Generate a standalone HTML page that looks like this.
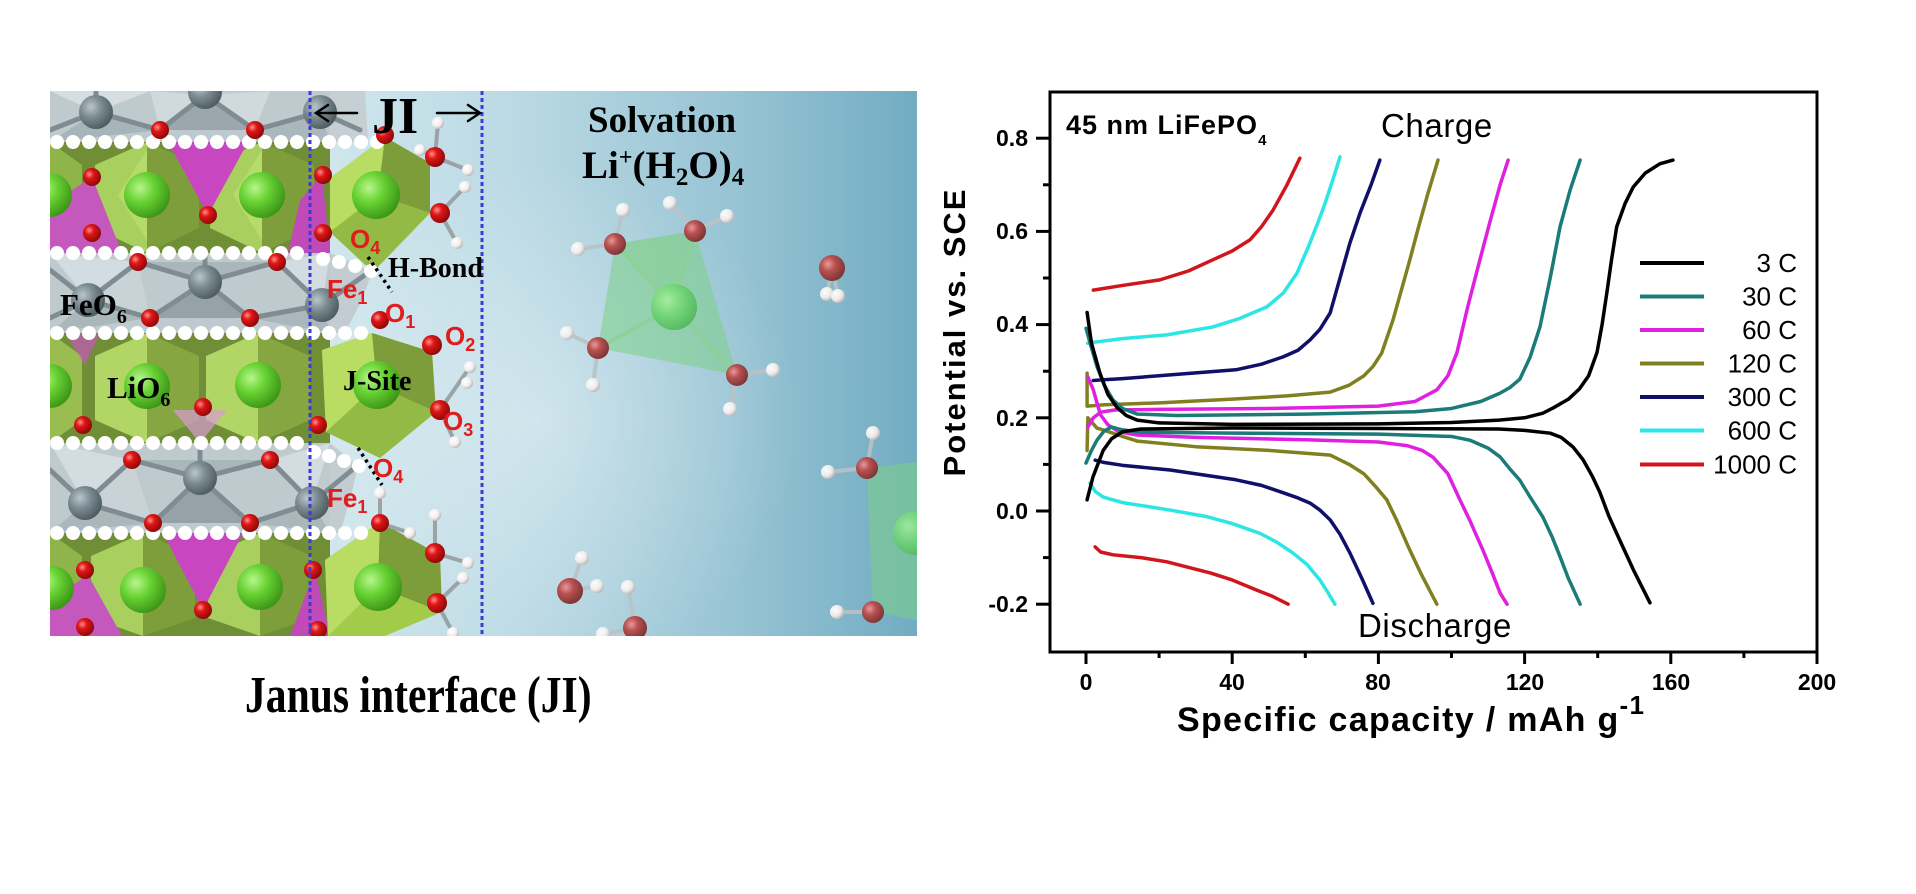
<!DOCTYPE html>
<html>
<head>
<meta charset="utf-8">
<style>
html,body{margin:0;padding:0;background:#fff;}
svg{display:block;}
.c polyline{vector-effect:non-scaling-stroke;}
.serif{font-family:"Liberation Serif",serif;font-weight:bold;}
.sans{font-family:"Liberation Sans",sans-serif;}
.red{font-family:"Liberation Sans",sans-serif;font-weight:bold;fill:#e01c1c;font-size:26px;}
</style>
</head>
<body>
<svg width="1916" height="894" viewBox="0 0 1916 894" xmlns="http://www.w3.org/2000/svg">
<defs>
  <linearGradient id="bg" x1="300" y1="0" x2="917" y2="0" gradientUnits="userSpaceOnUse">
    <stop offset="0" stop-color="#d4e8ee"/>
    <stop offset="0.35" stop-color="#bad9e4"/>
    <stop offset="0.7" stop-color="#98c4d4"/>
    <stop offset="1" stop-color="#72acc2"/>
  </linearGradient>
  <radialGradient id="hl" cx="540" cy="420" r="260" gradientUnits="userSpaceOnUse">
    <stop offset="0" stop-color="#ffffff" stop-opacity="0.35"/>
    <stop offset="1" stop-color="#ffffff" stop-opacity="0"/>
  </radialGradient>
  <radialGradient id="gO" cx="0.35" cy="0.35" r="0.7">
    <stop offset="0" stop-color="#ff9090"/>
    <stop offset="0.35" stop-color="#e01616"/>
    <stop offset="1" stop-color="#8a0808"/>
  </radialGradient>
  <radialGradient id="gOf" cx="0.35" cy="0.35" r="0.7">
    <stop offset="0" stop-color="#e69a9a"/>
    <stop offset="0.4" stop-color="#b85050"/>
    <stop offset="1" stop-color="#7a3434"/>
  </radialGradient>
  <radialGradient id="gFe" cx="0.35" cy="0.35" r="0.7">
    <stop offset="0" stop-color="#b9c7cc"/>
    <stop offset="0.45" stop-color="#7b8b91"/>
    <stop offset="1" stop-color="#4c5a5f"/>
  </radialGradient>
  <radialGradient id="gLi" cx="0.35" cy="0.35" r="0.7">
    <stop offset="0" stop-color="#b8f68c"/>
    <stop offset="0.45" stop-color="#68d233"/>
    <stop offset="1" stop-color="#3a9416"/>
  </radialGradient>
  <radialGradient id="gLif" cx="0.35" cy="0.35" r="0.7">
    <stop offset="0" stop-color="#a8efa0"/>
    <stop offset="0.5" stop-color="#6fd673"/>
    <stop offset="1" stop-color="#4fb55a"/>
  </radialGradient>
  <radialGradient id="gH" cx="0.35" cy="0.35" r="0.7">
    <stop offset="0" stop-color="#ffffff"/>
    <stop offset="0.6" stop-color="#f2eeee"/>
    <stop offset="1" stop-color="#b9b3b3"/>
  </radialGradient>
  <clipPath id="clipImg"><rect x="50" y="91" width="867" height="545"/></clipPath>
</defs>

<!-- ================= LEFT IMAGE ================= -->
<g clip-path="url(#clipImg)">
  <rect x="50" y="91" width="867" height="545" fill="url(#bg)"/>
  <rect x="50" y="91" width="867" height="545" fill="url(#hl)"/>

  <!-- layer bases -->
  <rect x="50" y="91" width="280" height="51" fill="#bfcacf"/>
  <rect x="50" y="142" width="280" height="111" fill="#6f8e35"/>
  <rect x="50" y="253" width="280" height="80" fill="#bfcacf"/>
  <rect x="50" y="333" width="280" height="110" fill="#6f8e35"/>
  <rect x="50" y="443" width="280" height="90" fill="#bfcacf"/>
  <rect x="50" y="533" width="280" height="103" fill="#6f8e35"/>

  <!-- gray partial layers in JI region -->
  <polygon points="330,91 365,91 368,142 330,142" fill="#c6d0d4"/>
  <polygon points="330,253 372,272 362,300 345,333 330,333" fill="#c3cdd1"/>
  <polygon points="330,443 358,466 350,500 340,533 330,533" fill="#c3cdd1"/>

  <!-- gray layer A facets -->
  <polygon points="50,91 150,91 96,112" fill="#d6dee1"/>
  <polygon points="96,112 160,130 50,142" fill="#a7b4b9"/>
  <polygon points="160,130 255,130 205,95" fill="#9aa8ad"/>
  <polygon points="255,130 320,112 330,142 240,142" fill="#aab7bb"/>
  <polygon points="150,91 205,95 160,130" fill="#d0d9dc"/>
  <polygon points="205,95 270,91 255,130" fill="#d0d9dc"/>
  <!-- gray layer C facets -->
  <polygon points="50,253 138,262 88,300" fill="#d3dce0"/>
  <polygon points="138,262 277,262 205,282" fill="#a9b6ba"/>
  <polygon points="150,318 250,318 205,282" fill="#95a3a8"/>
  <polygon points="50,333 150,318 88,300" fill="#aab7bb"/>
  <polygon points="250,318 330,333 322,305" fill="#aab7bb"/>
  <polygon points="277,262 330,253 322,305" fill="#d3dce0"/>
  <polygon points="138,262 150,318 88,300" fill="#c9d2d6"/>
  <!-- gray layer E facets -->
  <polygon points="50,443 132,460 85,503" fill="#d3dce0"/>
  <polygon points="132,460 270,460 200,478" fill="#a9b6ba"/>
  <polygon points="153,523 250,523 200,478" fill="#95a3a8"/>
  <polygon points="50,533 153,523 85,503" fill="#aab7bb"/>
  <polygon points="250,523 330,533 312,503" fill="#aab7bb"/>
  <polygon points="270,460 330,443 312,503" fill="#d3dce0"/>
  <polygon points="132,460 153,523 85,503" fill="#c9d2d6"/>

  <!-- Fe bonds -->
  <g stroke="#7f8d92" stroke-width="5" stroke-linecap="round">
    <line x1="96" y1="112" x2="160" y2="130"/><line x1="96" y1="112" x2="50" y2="130"/><line x1="96" y1="112" x2="96" y2="91"/>
    <line x1="205" y1="95" x2="160" y2="130"/><line x1="205" y1="95" x2="255" y2="130"/>
    <line x1="320" y1="112" x2="255" y2="130"/><line x1="320" y1="112" x2="360" y2="130"/>
    <line x1="88" y1="300" x2="138" y2="262"/><line x1="88" y1="300" x2="150" y2="318"/><line x1="88" y1="300" x2="50" y2="270"/><line x1="88" y1="300" x2="50" y2="318"/>
    <line x1="205" y1="282" x2="138" y2="262"/><line x1="205" y1="282" x2="277" y2="262"/><line x1="205" y1="282" x2="150" y2="318"/><line x1="205" y1="282" x2="250" y2="318"/><line x1="205" y1="282" x2="205" y2="253"/>
    <line x1="322" y1="305" x2="277" y2="262"/><line x1="322" y1="305" x2="250" y2="318"/><line x1="322" y1="305" x2="365" y2="275"/>
    <line x1="85" y1="503" x2="132" y2="460"/><line x1="85" y1="503" x2="153" y2="523"/><line x1="85" y1="503" x2="50" y2="470"/>
    <line x1="200" y1="478" x2="132" y2="460"/><line x1="200" y1="478" x2="270" y2="460"/><line x1="200" y1="478" x2="153" y2="523"/><line x1="200" y1="478" x2="250" y2="523"/><line x1="200" y1="478" x2="200" y2="443"/>
    <line x1="312" y1="503" x2="270" y2="460"/><line x1="312" y1="503" x2="250" y2="523"/><line x1="312" y1="503" x2="352" y2="470"/>
  </g>

  <!-- green layer octahedra (B) -->
  <g>
    <polygon points="147,142 95,165 95,228 147,253" fill="#a9cf5e"/>
    <polygon points="147,142 199,165 199,228 147,253" fill="#7e9e3c"/>
    <polygon points="262,142 210,165 210,228 262,253" fill="#a9cf5e"/>
    <polygon points="262,142 314,165 314,228 262,253" fill="#7e9e3c"/>
    <polygon points="50,142 82,165 82,228 50,253" fill="#8fb44a"/>
    <polygon points="147,150 118,195 147,240" fill="#bde070" opacity="0.7"/>
    <polygon points="262,150 233,195 262,240" fill="#bde070" opacity="0.7"/>
  </g>
  <!-- green layer D -->
  <g>
    <polygon points="147,333 95,356 95,420 147,443" fill="#b2d666"/>
    <polygon points="147,333 199,356 199,420 147,443" fill="#86a642"/>
    <polygon points="258,333 206,356 206,420 258,443" fill="#b2d666"/>
    <polygon points="258,333 310,356 310,420 258,443" fill="#86a642"/>
    <polygon points="50,333 82,356 82,420 50,443" fill="#9abd52"/>
    <polygon points="173,410 227,410 200,443" fill="#d89ad3" opacity="0.7"/>
    <polygon points="65,333 100,333 85,365" fill="#c458bd" opacity="0.7"/>
  </g>
  <!-- green layer F -->
  <g>
    <polygon points="143,533 91,556 91,618 143,636" fill="#a9cf5e"/>
    <polygon points="143,533 195,556 195,618 143,636" fill="#7e9e3c"/>
    <polygon points="260,533 208,556 208,618 260,636" fill="#a9cf5e"/>
    <polygon points="260,533 312,556 312,618 260,636" fill="#7e9e3c"/>
    <polygon points="50,533 82,556 82,618 50,636" fill="#8fb44a"/>
  </g>
  <!-- magenta tetrahedra -->
  <polygon points="168,142 248,142 208,215" fill="#c847c0"/>
  <polygon points="50,253 122,253 92,177 50,205" fill="#c458bd"/>
  <polygon points="288,253 330,253 322,175 300,200" fill="#c04ab8"/>
  <polygon points="163,533 243,533 203,610" fill="#c847c0"/>
  <polygon points="50,636 122,636 88,575 50,600" fill="#c458bd"/>
  <polygon points="290,636 330,636 315,570" fill="#c04ab8"/>

  <!-- J-site octahedra -->
  <g>
    <polygon points="385,137 430,163 430,213 373,272 330,232 330,178" fill="#a3cb4a"/>
    <polygon points="385,137 330,178 330,232 378,195" fill="#b9dc62"/>
    <polygon points="385,137 430,163 430,213 378,195" fill="#7d9c3a"/>
    <polygon points="330,232 373,272 430,213 378,195" fill="#93ba44"/>

    <polygon points="372,333 432,352 436,412 380,458 326,432 322,350" fill="#a3cb4a"/>
    <polygon points="372,333 322,350 326,432 377,385" fill="#b9dc62"/>
    <polygon points="372,333 432,352 436,412 377,385" fill="#7d9c3a"/>
    <polygon points="326,432 380,458 436,412 377,385" fill="#93ba44"/>

    <polygon points="380,522 440,555 442,612 385,636 328,636 325,560" fill="#a3cb4a"/>
    <polygon points="380,522 325,560 328,636 378,587" fill="#b9dc62"/>
    <polygon points="380,522 440,555 442,612 378,587" fill="#7d9c3a"/>
  </g>

  <!-- bead rows -->
  <g stroke="#ffffff" stroke-width="14" stroke-linecap="round" stroke-dasharray="0 16" fill="none">
    <line x1="57" y1="142" x2="378" y2="142"/>
    <line x1="57" y1="253" x2="306" y2="253"/>
    <line x1="57" y1="333" x2="374" y2="333"/>
    <line x1="57" y1="443" x2="298" y2="443"/>
    <line x1="57" y1="533" x2="374" y2="533"/>
  </g>
  <g fill="#ffffff">
    <circle cx="323" cy="259" r="7"/><circle cx="339" cy="262" r="7"/><circle cx="355" cy="266" r="7"/><circle cx="371" cy="271" r="7"/>
    <circle cx="314" cy="452" r="7"/><circle cx="329" cy="456" r="7"/><circle cx="344" cy="461" r="7"/><circle cx="359" cy="466" r="7"/>
  </g>

  <!-- Fe spheres -->
  <g fill="url(#gFe)">
    <circle cx="96" cy="112" r="17"/><circle cx="205" cy="92" r="17"/><circle cx="320" cy="112" r="17"/>
    <circle cx="88" cy="300" r="17"/><circle cx="205" cy="282" r="17"/><circle cx="322" cy="305" r="17"/>
    <circle cx="85" cy="503" r="17"/><circle cx="200" cy="478" r="17"/><circle cx="312" cy="503" r="17"/>
  </g>
  <!-- Li spheres -->
  <g fill="url(#gLi)">
    <circle cx="50" cy="195" r="22"/><circle cx="147" cy="195" r="23"/><circle cx="262" cy="195" r="23"/><circle cx="376" cy="195" r="24"/>
    <circle cx="50" cy="386" r="22"/><circle cx="147" cy="386" r="23"/><circle cx="258" cy="385" r="23"/><circle cx="377" cy="385" r="24"/>
    <circle cx="52" cy="588" r="22"/><circle cx="143" cy="590" r="23"/><circle cx="260" cy="587" r="23"/><circle cx="378" cy="587" r="24"/>
  </g>

  <!-- water bonds near interface -->
  <g stroke="#9aa3a6" stroke-width="4" stroke-linecap="round">
    <line x1="435" y1="157" x2="438" y2="123"/><line x1="435" y1="157" x2="420" y2="150"/><line x1="435" y1="157" x2="468" y2="170"/>
    <line x1="440" y1="213" x2="465" y2="187"/><line x1="440" y1="213" x2="457" y2="243"/>
    <line x1="440" y1="410" x2="470" y2="367"/><line x1="440" y1="410" x2="455" y2="442"/>
    <line x1="435" y1="553" x2="435" y2="515"/><line x1="435" y1="553" x2="468" y2="563"/>
    <line x1="437" y1="603" x2="463" y2="578"/><line x1="437" y1="603" x2="453" y2="633"/>
    <line x1="380" y1="523" x2="380" y2="493"/><line x1="380" y1="523" x2="410" y2="533"/>
  </g>

  <!-- O spheres -->
  <g fill="url(#gO)">
    <circle cx="160" cy="130" r="9"/><circle cx="255" cy="130" r="9"/><circle cx="92" cy="177" r="9"/><circle cx="208" cy="215" r="9"/>
    <circle cx="92" cy="233" r="9"/><circle cx="323" cy="175" r="9"/><circle cx="323" cy="233" r="9"/>
    <circle cx="138" cy="262" r="9"/><circle cx="277" cy="262" r="9"/><circle cx="150" cy="318" r="9"/><circle cx="250" cy="318" r="9"/>
    <circle cx="83" cy="425" r="9"/><circle cx="203" cy="407" r="9"/><circle cx="318" cy="425" r="9"/>
    <circle cx="132" cy="460" r="9"/><circle cx="270" cy="460" r="9"/><circle cx="153" cy="523" r="9"/><circle cx="250" cy="523" r="9"/>
    <circle cx="85" cy="570" r="9"/><circle cx="203" cy="610" r="9"/><circle cx="85" cy="627" r="9"/><circle cx="313" cy="570" r="9"/><circle cx="318" cy="630" r="9"/>
    <circle cx="385" cy="135" r="9"/><circle cx="380" cy="320" r="9"/><circle cx="432" cy="345" r="10"/><circle cx="440" cy="410" r="10"/>
    <circle cx="380" cy="523" r="9"/><circle cx="435" cy="157" r="10"/><circle cx="440" cy="213" r="10"/>
    <circle cx="435" cy="553" r="10"/><circle cx="437" cy="603" r="10"/>
  </g>
  <!-- H spheres near interface -->
  <g fill="url(#gH)">
    <circle cx="438" cy="123" r="6"/><circle cx="420" cy="150" r="6"/><circle cx="468" cy="170" r="6"/><circle cx="465" cy="187" r="6"/>
    <circle cx="457" cy="243" r="6"/><circle cx="470" cy="367" r="6"/><circle cx="467" cy="383" r="6"/><circle cx="455" cy="442" r="6"/>
    <circle cx="435" cy="515" r="6"/><circle cx="410" cy="533" r="6"/><circle cx="468" cy="563" r="6"/><circle cx="463" cy="578" r="6"/>
    <circle cx="453" cy="633" r="6"/><circle cx="380" cy="493" r="6"/>
  </g>

  <!-- solvation tetrahedron -->
  <g stroke="#b9c3c6" stroke-width="4" stroke-linecap="round" opacity="0.9">
    <line x1="615" y1="244" x2="623" y2="210"/><line x1="615" y1="244" x2="578" y2="249"/>
    <line x1="695" y1="231" x2="670" y2="203"/><line x1="695" y1="231" x2="727" y2="216"/>
    <line x1="598" y1="348" x2="567" y2="333"/><line x1="598" y1="348" x2="593" y2="385"/>
    <line x1="737" y1="375" x2="773" y2="370"/><line x1="737" y1="375" x2="730" y2="409"/>
    <line x1="832" y1="268" x2="827" y2="294"/><line x1="832" y1="268" x2="838" y2="296"/>
    <line x1="867" y1="468" x2="873" y2="433"/><line x1="867" y1="468" x2="828" y2="472"/>
    <line x1="873" y1="612" x2="837" y2="612"/>
    <line x1="570" y1="591" x2="582" y2="558"/><line x1="570" y1="591" x2="597" y2="586"/>
    <line x1="635" y1="628" x2="628" y2="587"/><line x1="635" y1="628" x2="603" y2="634"/>
  </g>
  <polygon points="615,244 695,231 737,375 598,348" fill="#7ccf86" opacity="0.55"/>
  <polygon points="615,244 695,231 674,307" fill="#86d08a" opacity="0.35"/>
  <g stroke="#8fd092" stroke-width="4" opacity="0.7">
    <line x1="674" y1="307" x2="615" y2="244"/><line x1="674" y1="307" x2="695" y2="231"/>
    <line x1="674" y1="307" x2="598" y2="348"/><line x1="674" y1="307" x2="737" y2="375"/>
  </g>
  <circle cx="674" cy="307" r="23" fill="url(#gLif)" opacity="0.9"/>
  <polygon points="867,468 917,462 917,620 873,612" fill="#7ccf86" opacity="0.55"/>
  <circle cx="915" cy="533" r="22" fill="url(#gLif)" opacity="0.8"/>
  <g fill="url(#gOf)">
    <circle cx="615" cy="244" r="11"/><circle cx="695" cy="231" r="11"/><circle cx="598" cy="348" r="11"/><circle cx="737" cy="375" r="11"/>
    <circle cx="832" cy="268" r="13"/><circle cx="867" cy="468" r="11"/><circle cx="873" cy="612" r="11"/>
    <circle cx="570" cy="591" r="13"/><circle cx="635" cy="628" r="12"/>
  </g>
  <g fill="url(#gH)" opacity="0.95">
    <circle cx="623" cy="210" r="7"/><circle cx="578" cy="249" r="7"/><circle cx="670" cy="203" r="7"/><circle cx="727" cy="216" r="7"/>
    <circle cx="567" cy="333" r="7"/><circle cx="593" cy="385" r="7"/><circle cx="773" cy="370" r="7"/><circle cx="730" cy="409" r="7"/>
    <circle cx="827" cy="294" r="7"/><circle cx="838" cy="296" r="7"/><circle cx="873" cy="433" r="7"/><circle cx="828" cy="472" r="7"/>
    <circle cx="837" cy="612" r="7"/><circle cx="582" cy="558" r="7"/><circle cx="597" cy="586" r="7"/><circle cx="628" cy="587" r="7"/><circle cx="603" cy="634" r="7"/>
  </g>

  <!-- dashed lines -->
  <g stroke="#3b3bd6" stroke-width="3" stroke-dasharray="4 3">
    <line x1="310" y1="91" x2="310" y2="636"/>
    <line x1="482" y1="91" x2="482" y2="636"/>
  </g>

  <!-- H-bond dotted -->
  <g stroke="#000" stroke-width="3.5" stroke-dasharray="3 4">
    <line x1="368" y1="257" x2="392" y2="292"/>
    <line x1="358" y1="448" x2="382" y2="485"/>
  </g>
</g>

<!-- arrows + JI -->
<g stroke="#000" stroke-width="2.5" fill="none" stroke-linecap="round">
  <path d="M357 113 H317"/><path d="M328 105 L316 113 L328 121"/>
  <path d="M437 113 H479"/><path d="M468 105 L480 113 L468 121"/>
</g>
<text class="serif" x="372" y="133" font-size="52">JI</text>

<!-- labels in image -->
<text class="serif" x="588" y="132" font-size="37">Solvation</text>
<text class="serif" x="582" y="178" font-size="39">Li<tspan dy="-13" font-size="24">+</tspan><tspan dy="13">(H</tspan><tspan dy="7" font-size="25">2</tspan><tspan dy="-7">O)</tspan><tspan dy="7" font-size="25">4</tspan></text>
<text class="serif" x="388" y="277" font-size="28">H-Bond</text>
<text class="serif" x="60" y="315" font-size="31">FeO<tspan dy="8" font-size="20">6</tspan></text>
<text class="serif" x="107" y="398" font-size="31">LiO<tspan dy="8" font-size="20">6</tspan></text>
<text class="serif" x="343" y="390" font-size="28">J-Site</text>

<text class="red" x="350" y="248">O<tspan dy="6" font-size="18">4</tspan></text>
<text class="red" x="327" y="298">Fe<tspan dy="6" font-size="18">1</tspan></text>
<text class="red" x="385" y="322">O<tspan dy="6" font-size="18">1</tspan></text>
<text class="red" x="445" y="345">O<tspan dy="6" font-size="18">2</tspan></text>
<text class="red" x="443" y="430">O<tspan dy="6" font-size="18">3</tspan></text>
<text class="red" x="373" y="477">O<tspan dy="6" font-size="18">4</tspan></text>
<text class="red" x="327" y="507">Fe<tspan dy="6" font-size="18">1</tspan></text>

<text class="serif" font-size="52" transform="translate(245 712) scale(0.8 1)">Janus interface (JI)</text>

<!-- ================= CHART ================= -->
<g class="c" fill="none" stroke-width="3.5" stroke-linejoin="round" stroke-linecap="round" transform="translate(1086 511) scale(3.655 -466)">
  <polyline stroke="#d0161c" points="2,0.474 10,0.484 20.2,0.496 28,0.515 34.7,0.539 40,0.558 44.9,0.582 48,0.61 51.2,0.646 55,0.70 58.5,0.757"/>
  <polyline stroke="#d0161c" points="2.5,-0.077 4,-0.088 7.4,-0.094 15,-0.1 22.1,-0.109 34,-0.133 40,-0.148 46.8,-0.17 51,-0.183 55.3,-0.2"/>
  <polyline stroke="#2ce5e5" points="0.5,0.36 2,0.362 10,0.37 22.1,0.378 34.7,0.395 42,0.413 49.5,0.438 54,0.468 57.7,0.51 61,0.57 63.5,0.62 65.4,0.66 67.5,0.71 69.5,0.76"/>
  <polyline stroke="#2ce5e5" points="1.1,0.06 2.5,0.042 4.7,0.03 10,0.018 23,0.002 33,-0.012 40,-0.027 47.6,-0.048 52,-0.066 56.6,-0.09 60.5,-0.115 64,-0.148 66.2,-0.175 68.1,-0.2"/>
  <polyline stroke="#10106a" points="2,0.28 3.8,0.281 10,0.284 23,0.292 41,0.303 48,0.315 54,0.331 58,0.345 61.3,0.367 64,0.39 66.8,0.425 69.5,0.5 72.2,0.575 75,0.64 78,0.70 80.4,0.753"/>
  <polyline stroke="#10106a" points="2.5,0.109 5,0.104 10,0.098 23,0.088 41,0.067 48,0.055 54,0.039 58,0.028 61.3,0.017 64,0.002 66.8,-0.019 69.5,-0.05 72.2,-0.09 75.5,-0.145 78.5,-0.198"/>
  <polyline stroke="#808020" points="0.3,0.296 0.3,0.225 2,0.226 5,0.228 20,0.232 40,0.24 55,0.247 66.8,0.255 72,0.27 76,0.29 78.5,0.31 80.9,0.339 84,0.41 86.5,0.48 88.6,0.539 91,0.61 93.5,0.68 96.3,0.753"/>
  <polyline stroke="#808020" points="0.3,0.13 0.5,0.2 3,0.178 4.7,0.174 10,0.16 14,0.15 30,0.138 50,0.13 66.8,0.12 72,0.1 76,0.08 79.5,0.05 82.3,0.024 85,-0.02 88.6,-0.084 92,-0.14 96,-0.2"/>
  <polyline stroke="#e020e0" points="0.5,0.18 2,0.2 4,0.212 8,0.217 20,0.218 50,0.22 80,0.225 90,0.235 96,0.26 99,0.29 101.5,0.34 104.5,0.44 107.8,0.54 110.5,0.62 113.3,0.70 115.5,0.753"/>
  <polyline stroke="#e020e0" points="0.5,0.288 2,0.26 3,0.232 4,0.206 6,0.185 9,0.17 14,0.163 30,0.158 60,0.153 80,0.148 88,0.14 92,0.13 95,0.115 99,0.08 102.3,0.024 105,-0.02 108.6,-0.084 111,-0.13 113.3,-0.176 115.2,-0.2"/>
  <polyline stroke="#1b7b79" points="0,0.392 1.5,0.35 3,0.31 5,0.27 7.4,0.238 10,0.22 14,0.208 25,0.205 60,0.208 90,0.213 100,0.22 108,0.235 113.3,0.253 116,0.265 118.7,0.283 121.5,0.33 124.2,0.395 127,0.5 129.7,0.61 132.5,0.69 135.2,0.753"/>
  <polyline stroke="#1b7b79" points="0,0.103 1.5,0.13 3,0.152 5,0.172 7,0.18 10,0.174 15,0.169 40,0.167 80,0.165 100,0.16 105,0.152 110,0.135 113.3,0.116 116,0.09 118.7,0.066 121.5,0.03 125,-0.013 127.5,-0.055 129.7,-0.098 132,-0.145 135.2,-0.2"/>
  <polyline stroke="#000000" points="0.3,0.426 1.5,0.36 3.8,0.296 6,0.25 8.5,0.222 11,0.205 14,0.195 20,0.189 40,0.186 80,0.187 100,0.19 113,0.195 120,0.2 125,0.21 128,0.222 132,0.24 135,0.262 137.5,0.29 139.8,0.34 141.2,0.40 142.5,0.468 143.8,0.54 145.2,0.61 147.5,0.66 149.7,0.695 153,0.725 157,0.745 160.6,0.753"/>
  <polyline stroke="#000000" points="0.3,0.024 1.9,0.073 4.7,0.13 7,0.155 10,0.17 15,0.176 40,0.178 80,0.177 113,0.176 120,0.173 127,0.167 130,0.158 133.3,0.137 136,0.11 138.5,0.075 140.6,0.04 143,-0.01 146,-0.062 150,-0.13 154.3,-0.197"/>
</g>

<!-- axes frame -->
<rect x="1050" y="92" width="767" height="560" fill="none" stroke="#000" stroke-width="3"/>
<!-- x ticks -->
<g stroke="#000" stroke-width="3">
  <line x1="1086" y1="652" x2="1086" y2="664"/><line x1="1232.2" y1="652" x2="1232.2" y2="664"/>
  <line x1="1378.4" y1="652" x2="1378.4" y2="664"/><line x1="1524.6" y1="652" x2="1524.6" y2="664"/>
  <line x1="1670.8" y1="652" x2="1670.8" y2="664"/><line x1="1817" y1="652" x2="1817" y2="664"/>
  <line x1="1159.1" y1="652" x2="1159.1" y2="658"/><line x1="1305.3" y1="652" x2="1305.3" y2="658"/>
  <line x1="1451.5" y1="652" x2="1451.5" y2="658"/><line x1="1597.7" y1="652" x2="1597.7" y2="658"/>
  <line x1="1743.9" y1="652" x2="1743.9" y2="658"/>
  <!-- y ticks -->
  <line x1="1036" y1="138.2" x2="1050" y2="138.2"/><line x1="1036" y1="231.4" x2="1050" y2="231.4"/>
  <line x1="1036" y1="324.6" x2="1050" y2="324.6"/><line x1="1036" y1="417.8" x2="1050" y2="417.8"/>
  <line x1="1036" y1="511" x2="1050" y2="511"/><line x1="1036" y1="604.2" x2="1050" y2="604.2"/>
  <line x1="1043" y1="184.8" x2="1050" y2="184.8"/><line x1="1043" y1="278" x2="1050" y2="278"/>
  <line x1="1043" y1="371.2" x2="1050" y2="371.2"/><line x1="1043" y1="464.4" x2="1050" y2="464.4"/>
  <line x1="1043" y1="557.6" x2="1050" y2="557.6"/>
</g>
<g class="sans" font-weight="bold" font-size="23" fill="#000">
  <g text-anchor="end">
    <text x="1028" y="146">0.8</text><text x="1028" y="239">0.6</text><text x="1028" y="332">0.4</text>
    <text x="1028" y="426">0.2</text><text x="1028" y="519">0.0</text><text x="1028" y="612">-0.2</text>
  </g>
  <g text-anchor="middle">
    <text x="1086" y="690">0</text><text x="1232" y="690">40</text><text x="1378" y="690">80</text>
    <text x="1525" y="690">120</text><text x="1671" y="690">160</text><text x="1817" y="690">200</text>
  </g>
</g>
<!-- axis titles -->
<text class="sans" font-weight="bold" font-size="34" letter-spacing="1.3" x="1177" y="731">Specific capacity / mAh g<tspan dy="-17" font-size="26">-1</tspan></text>
<text class="sans" font-weight="bold" font-size="31" letter-spacing="2" text-anchor="middle" transform="translate(965 332) rotate(-90)">Potential vs. SCE</text>

<!-- annotations -->
<text class="sans" font-weight="bold" font-size="27" letter-spacing="1" x="1066" y="134">45 nm LiFePO<tspan dy="11" font-size="15">4</tspan></text>
<text class="sans" font-size="33" letter-spacing="0.6" x="1381" y="137">Charge</text>
<text class="sans" font-size="33" letter-spacing="0.6" x="1358" y="637">Discharge</text>

<!-- legend -->
<g stroke-width="4">
  <line x1="1640" y1="263" x2="1704" y2="263" stroke="#000000"/>
  <line x1="1640" y1="296.5" x2="1704" y2="296.5" stroke="#1b7b79"/>
  <line x1="1640" y1="330" x2="1704" y2="330" stroke="#e020e0"/>
  <line x1="1640" y1="363.5" x2="1704" y2="363.5" stroke="#808020"/>
  <line x1="1640" y1="397" x2="1704" y2="397" stroke="#10106a"/>
  <line x1="1640" y1="430.5" x2="1704" y2="430.5" stroke="#2ce5e5"/>
  <line x1="1640" y1="464.5" x2="1704" y2="464.5" stroke="#d0161c"/>
</g>
<g class="sans" font-size="26" text-anchor="end" fill="#000">
  <text x="1797" y="272">3 C</text>
  <text x="1797" y="305.5">30 C</text>
  <text x="1797" y="339">60 C</text>
  <text x="1797" y="372.5">120 C</text>
  <text x="1797" y="406">300 C</text>
  <text x="1797" y="439.5">600 C</text>
  <text x="1797" y="473.5">1000 C</text>
</g>
</svg>
</body>
</html>
